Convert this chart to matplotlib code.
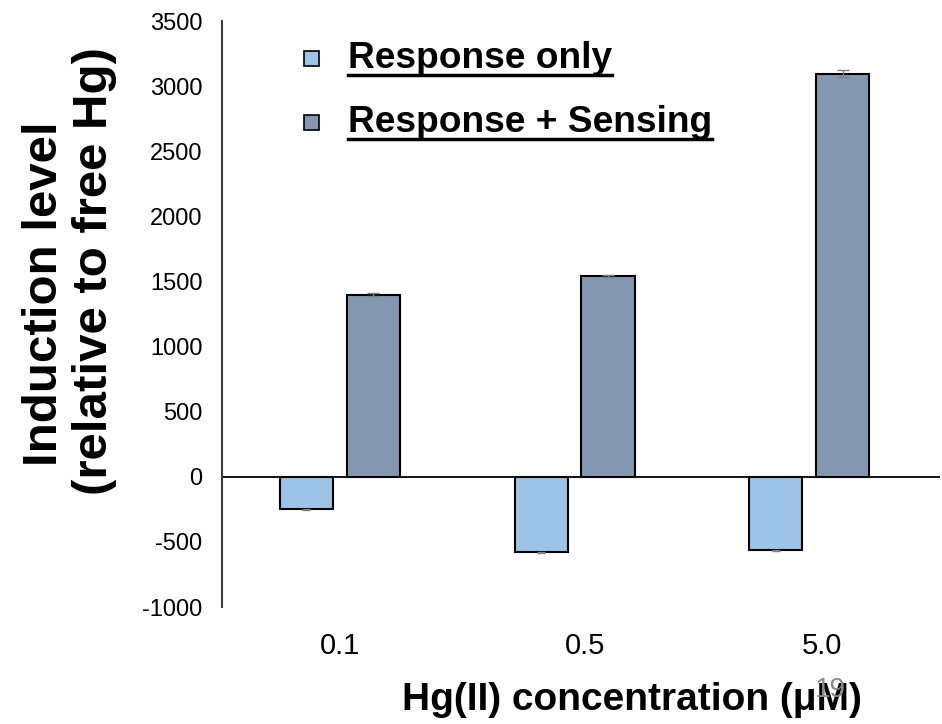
import matplotlib
matplotlib.use("Agg")
import matplotlib.pyplot as plt
from matplotlib.patches import Rectangle
from matplotlib.lines import Line2D
import numpy as np

plt.rcParams['font.family'] = ['Liberation Sans', 'DejaVu Sans']

categories = ["0.1", "0.5", "5.0"]
response_only = [-250, -580, -565]
response_only_err = [5, 5, 5]
response_sensing = [1398, 1543, 3095]
response_sensing_err = [10, 8, 25]
series_names = ["Response only", "Response + Sensing"]
yticks = [-1000, -500, 0, 500, 1000, 1500, 2000, 2500, 3000, 3500]

c_light = "#9DC3E6"
c_dark = "#8497B0"

W, H = 942, 724
fig = plt.figure(figsize=(W / 100, H / 100), dpi=100)
ax = fig.add_axes([222 / W, 1 - 607 / H, (940 - 222) / W, (607 - 21) / H])

x = np.arange(len(categories))
bw = 0.226
off = 0.1426
ax.bar(x - off, response_only, bw, color=c_light, edgecolor="black", linewidth=1.5,
       yerr=response_only_err, ecolor="#808080", capsize=3, error_kw=dict(elinewidth=1))
ax.bar(x + off, response_sensing, bw, color=c_dark, edgecolor="black", linewidth=1.5,
       yerr=response_sensing_err, ecolor="#808080", capsize=4, error_kw=dict(elinewidth=1))

ax.set_xlim(-0.502, 2.557)
ax.set_ylim(-1000, 3500)
ax.set_yticks(yticks)
ax.set_yticklabels([str(v) for v in yticks], fontsize=17)
ax.tick_params(axis="y", length=0, pad=14)
ax.set_xticks([])
for s in ["top", "right", "bottom"]:
    ax.spines[s].set_visible(False)
ax.spines["left"].set_color("#404040")
ax.spines["left"].set_linewidth(1.5)
ax.axhline(0, color="black", linewidth=1.3, zorder=0.5)

# category labels below plot
label_shift = [0.0, 0.045, 0.056]
for xi, lab, dx in zip(x, categories, label_shift):
    ax.text(xi + dx, -0.066, lab, transform=ax.get_xaxis_transform(), ha="center", va="center",
            fontsize=21)

# axis labels
fig.text(45 / W, 1 - 294 / H, "Induction level", rotation=90, ha="center", va="center",
         fontsize=35.5, fontweight="bold")
fig.text(95 / W, 1 - 271 / H, "(relative to free Hg)", rotation=90, ha="center", va="center",
         fontsize=35.5, fontweight="bold")
fig.text(632 / W, 1 - 700 / H, "Hg(II) concentration (μM)", ha="center", va="center",
         fontsize=28, fontweight="bold")

# slide number
fig.text(830 / W, 1 - 690 / H, "19", ha="center", va="center", fontsize=20, color="#8a8a8a")

# custom legend
leg_y = [58, 122]
for yy, name, col in zip(leg_y, series_names, [c_light, c_dark]):
    fig.add_artist(Rectangle((304 / W, 1 - (yy + 7.5) / H), 15 / W, 15 / H, facecolor=col,
                             edgecolor="black", linewidth=1.2, transform=fig.transFigure))
    t = fig.text(348 / W, 1 - yy / H, name, ha="left", va="center", fontsize=26.7,
                 fontweight="bold")
    fig.canvas.draw()
    bb = t.get_window_extent()
    fig.add_artist(Line2D([bb.x0 / W, bb.x1 / W], [1 - (yy + 17) / H] * 2, color="black",
                          linewidth=2.5, transform=fig.transFigure))

fig.savefig("out.png", dpi=100)
